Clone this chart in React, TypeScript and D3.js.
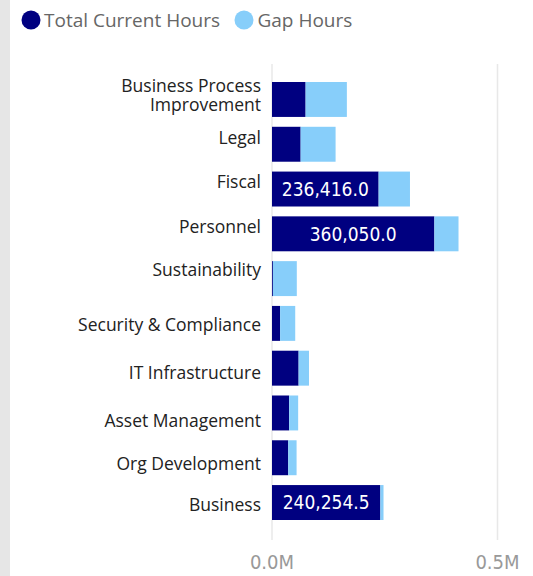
import React from 'react'
import * as d3 from 'd3'

// categories, top to bottom
const categories = [
  'Business Process Improvement',
  'Legal',
  'Fiscal',
  'Personnel',
  'Sustainability',
  'Security & Compliance',
  'IT Infrastructure',
  'Asset Management',
  'Org Development',
  'Business',
]

// series values (hours)
const currentHours = [74500, 63500, 236416.0, 360050.0, 2000, 18000, 59000, 38000, 36000, 240254.5]
const gapHours = [91500, 77500, 69500, 53500, 53000, 33500, 23000, 20000, 18500, 7000]

const seriesNames = ['Total Current Hours', 'Gap Hours']
const seriesColors = ['#000080', '#87CEFA']
const tickValues = [0, 500000]

const width = 533
const height = 576

// the category labels do not sit exactly on the bar centres, nudge their baselines (px)
const labelNudge = [-7.3, -0.7, -1, -0.7, -2.5, 8, 11, 14, 12, 8.7]

export default function App() {
  // set the scales
  const x = d3.scaleLinear().domain([0, 500000]).range([272, 497.5])
  const y = d3.scaleBand<string>()
    .domain(categories)
    .range([82, 520])
    .paddingInner(0.22)
    .paddingOuter(0)

  const fmt = d3.format(',.1f')
  const tickFmt = (v: number) => d3.format('.1f')(v / 1e6) + 'M'

  const labelFont = "'Segoe UI', 'Open Sans', sans-serif"
  const numFont = "'DejaVu Sans Condensed', 'Liberation Sans Narrow', sans-serif"

  return (
    <svg width={width} height={height} style={{ position: 'absolute', left: 0, top: 0, background: '#fff' }}>
      {/* grey strip at the left edge */}
      <rect x={0} y={0} width={10} height={height} fill="#e6e6e6" />

      {/* legend */}
      <g>
        <circle cx={31} cy={20} r={9.5} fill={seriesColors[0]} />
        <text x={44} y={27} fontFamily={labelFont} fontSize={19} fill="#666">{seriesNames[0]}</text>
        <circle cx={244} cy={20} r={9.5} fill={seriesColors[1]} />
        <text x={257.5} y={27} fontFamily={labelFont} fontSize={19} fill="#666">{seriesNames[1]}</text>
      </g>

      {/* gridlines */}
      {tickValues.map(t => (
        <line key={t} x1={x(t)} x2={x(t)} y1={64} y2={540} stroke="#e8e8e8" strokeWidth={1.5} />
      ))}

      {/* bars */}
      {categories.map((c, i) => {
        const y0 = y(c) as number
        const bw = y.bandwidth()
        const cur = currentHours[i]
        const gap = gapHours[i]
        const curW = x(cur) - x(0)
        const label = fmt(cur)
        const showLabel = curW > 100
        return (
          <g key={c}>
            <rect x={x(0)} y={y0} width={curW} height={bw} fill={seriesColors[0]} />
            <rect x={x(cur)} y={y0} width={x(cur + gap) - x(cur)} height={bw} fill={seriesColors[1]} />
            {showLabel && (
              <text x={x(0) + curW / 2} y={y0 + bw / 2} dy="0.36em" textAnchor="middle"
                fontFamily={numFont} fontSize={19} fill="#fff">{label}</text>
            )}
          </g>
        )
      })}

      {/* category labels */}
      {categories.map((c, i) => {
        const cy = (y(c) as number) + y.bandwidth() / 2 + labelNudge[i]
        const lines = c === 'Business Process Improvement' ? ['Business Process', 'Improvement'] : [c]
        return (
          <text key={c} x={261} y={cy} textAnchor="end" fontFamily={labelFont} fontSize={17.5} fill="#222">
            {lines.map((l, k) => (
              <tspan key={k} x={261} dy={k === 0 ? 0 : 19}>{l}</tspan>
            ))}
          </text>
        )
      })}

      {/* x axis tick labels */}
      {tickValues.map(t => (
        <text key={t} x={x(t)} y={569} textAnchor="middle" fontFamily={numFont} fontSize={20} fill="#999">
          {tickFmt(t)}
        </text>
      ))}
    </svg>
  )
}
